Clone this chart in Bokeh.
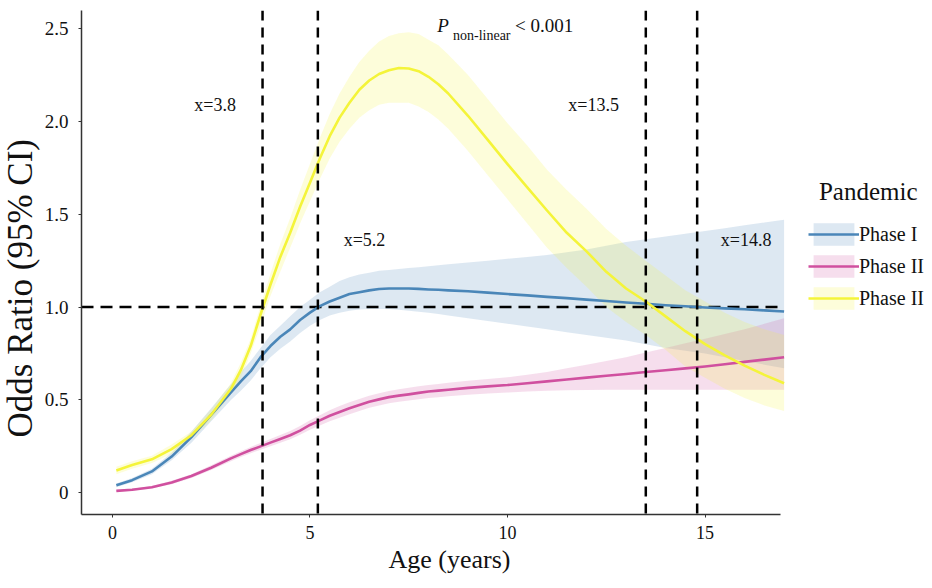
import math
from bokeh.plotting import figure
from bokeh.models import (Span, Label, Legend, LegendItem, Range1d, FixedTicker,
                          CustomJSTickFormatter, ColumnDataSource, Title)
from bokeh.embed import file_html
from bokeh.resources import INLINE

# ---------------- data ----------------
age = [0.1, 0.5, 1.0, 1.5, 2.0, 2.5, 3.0,
       3.25, 3.5, 3.75, 4.0, 4.25, 4.5, 4.75, 5.0, 5.25, 5.5, 5.75, 6.0, 6.25, 6.5,
       6.75, 7.0, 7.25, 7.5, 7.75, 8.0, 8.25, 8.5,
       9.0, 9.5, 10.0, 10.5, 11.0, 11.5, 12.0, 12.5, 13.0, 13.5, 14.0, 14.5, 15.0,
       15.5, 16.0, 16.5, 17.0]

phase1_or = [0.04, 0.068, 0.115, 0.195, 0.30, 0.42, 0.54,
             0.60, 0.655, 0.73, 0.79, 0.84, 0.88, 0.93, 0.97, 1.005, 1.03, 1.05, 1.07,
             1.08, 1.09, 1.097, 1.10, 1.10, 1.10, 1.098, 1.095, 1.093, 1.09,
             1.085, 1.078, 1.07, 1.063, 1.055, 1.048, 1.04, 1.033, 1.025, 1.018, 1.01,
             1.004, 0.998, 0.993, 0.988, 0.982, 0.976]
phase1_hi = [0.05, 0.08, 0.13, 0.215, 0.33, 0.455, 0.585,
             0.65, 0.71, 0.78, 0.85, 0.90, 0.95, 1.00, 1.04, 1.08, 1.11, 1.14, 1.16,
             1.175, 1.185, 1.195, 1.20, 1.205, 1.21, 1.215, 1.22, 1.225, 1.23,
             1.24, 1.25, 1.26, 1.27, 1.28, 1.295, 1.31, 1.33, 1.35, 1.365, 1.38,
             1.395, 1.41, 1.425, 1.44, 1.455, 1.47]
phase1_lo = [0.03, 0.057, 0.10, 0.175, 0.27, 0.385, 0.50,
             0.55, 0.605, 0.67, 0.73, 0.775, 0.815, 0.86, 0.90, 0.93, 0.955, 0.97, 0.98,
             0.987, 0.99, 0.99, 0.99, 0.985, 0.98, 0.975, 0.97, 0.963, 0.955,
             0.94, 0.925, 0.91, 0.895, 0.88, 0.865, 0.85, 0.835, 0.82, 0.80, 0.78,
             0.765, 0.75, 0.73, 0.71, 0.69, 0.67]

phase2_or = [0.01, 0.016, 0.03, 0.055, 0.09, 0.135, 0.185,
             0.208, 0.23, 0.25, 0.27, 0.29, 0.31, 0.335, 0.365, 0.39, 0.415, 0.435,
             0.455, 0.473, 0.49, 0.503, 0.515, 0.523, 0.53, 0.538, 0.545, 0.55, 0.555,
             0.565, 0.573, 0.58, 0.59, 0.60, 0.61, 0.62, 0.63, 0.64, 0.65, 0.66,
             0.67, 0.68, 0.692, 0.705, 0.717, 0.73]
phase2_hi = [0.015, 0.022, 0.037, 0.065, 0.10, 0.148, 0.20,
             0.224, 0.247, 0.268, 0.29, 0.311, 0.333, 0.36, 0.39, 0.417, 0.445, 0.467,
             0.488, 0.505, 0.522, 0.536, 0.548, 0.557, 0.565, 0.573, 0.58, 0.586, 0.592,
             0.603, 0.612, 0.622, 0.635, 0.65, 0.67, 0.69, 0.71, 0.73, 0.755, 0.78,
             0.805, 0.83, 0.855, 0.88, 0.91, 0.94]
phase2_lo = [0.005, 0.011, 0.024, 0.046, 0.08, 0.122, 0.17,
             0.192, 0.213, 0.232, 0.25, 0.269, 0.288, 0.313, 0.34, 0.362, 0.385, 0.404,
             0.423, 0.44, 0.458, 0.47, 0.482, 0.49, 0.497, 0.504, 0.51, 0.515, 0.52,
             0.528, 0.534, 0.54, 0.545, 0.55, 0.552, 0.554, 0.555, 0.555, 0.555, 0.555,
             0.555, 0.555, 0.555, 0.555, 0.555, 0.555]

phase3_or = [0.12, 0.15, 0.18, 0.235, 0.31, 0.42, 0.56,
             0.66, 0.79, 0.96, 1.12, 1.27, 1.40, 1.54, 1.67, 1.80, 1.92, 2.02, 2.10,
             2.17, 2.22, 2.255, 2.275, 2.287, 2.285, 2.27, 2.24, 2.20, 2.15,
             2.03, 1.90, 1.77, 1.645, 1.52, 1.40, 1.30, 1.19, 1.10, 1.03, 0.95,
             0.87, 0.80, 0.74, 0.685, 0.635, 0.59]
phase3_hi = [0.14, 0.17, 0.20, 0.26, 0.33, 0.45, 0.59,
             0.70, 0.83, 1.01, 1.18, 1.34, 1.48, 1.63, 1.77, 1.91, 2.04, 2.15, 2.24,
             2.32, 2.38, 2.43, 2.46, 2.475, 2.48, 2.47, 2.44, 2.41, 2.36,
             2.25, 2.12, 1.99, 1.87, 1.74, 1.63, 1.53, 1.42, 1.33, 1.25, 1.17,
             1.09, 1.03, 0.97, 0.92, 0.88, 0.85]
phase3_lo = [0.10, 0.13, 0.16, 0.21, 0.29, 0.39, 0.53,
             0.62, 0.75, 0.90, 1.06, 1.19, 1.32, 1.45, 1.57, 1.69, 1.80, 1.89, 1.96,
             2.02, 2.06, 2.09, 2.10, 2.10, 2.10, 2.08, 2.05, 2.01, 1.96,
             1.84, 1.71, 1.58, 1.45, 1.32, 1.21, 1.11, 1.00, 0.92, 0.85, 0.77,
             0.68, 0.62, 0.56, 0.51, 0.47, 0.44]

series_names = ["Phase I", "Phase II", "Phase II"]
series_colors = ["#4a86b8", "#d0509f", "#f4f43a"]
cutpoints = [3.8, 5.2, 13.5, 14.8]
cut_labels = ["x=3.8", "x=5.2", "x=13.5", "x=14.8"]
cut_label_x = [2.60, 6.38, 12.18, 16.04]
cut_label_y = [2.086, 1.359, 2.086, 1.359]
reference_or = 1.0
x_ticks = [0, 5, 10, 15]
y_ticks = [0, 0.5, 1.0, 1.5, 2.0, 2.5]
axis_x_min, axis_x_max = -0.782, 16.92      # drawn extent of the x axis
view_x_max = 20.655                          # room on the right for the legend
y_min, y_max = -0.117, 2.597

FONT = "Liberation Serif"

# ---------------- figure ----------------
p = figure(width=928, height=580, output_backend="svg", toolbar_location=None,
           x_range=Range1d(axis_x_min, view_x_max), y_range=Range1d(y_min, y_max),
           min_border_left=78, min_border_right=0, min_border_top=10,
           min_border_bottom=66)
p.outline_line_color = None
p.xgrid.visible = False
p.ygrid.visible = False
p.background_fill_color = "white"

for ax in (p.xaxis[0], p.yaxis[0]):
    ax.axis_line_color = "#333333"
    ax.axis_line_width = 1.5
    ax.major_tick_line_color = "#333333"
    ax.major_tick_out = 3
    ax.major_tick_in = 0
    ax.minor_tick_line_color = None
    ax.major_label_text_font = FONT
    ax.major_label_text_color = "#111111"

p.xaxis.bounds = (axis_x_min, axis_x_max)
p.xaxis.ticker = FixedTicker(ticks=x_ticks)
p.yaxis.ticker = FixedTicker(ticks=y_ticks)
p.xaxis.major_label_text_font_size = "18px"
p.yaxis.major_label_text_font_size = "19px"
p.xaxis.major_label_standoff = 8
p.yaxis.major_label_standoff = 10
p.yaxis.formatter = CustomJSTickFormatter(code="return tick == 0 ? '0' : tick.toFixed(1);")
p.xaxis.formatter = CustomJSTickFormatter(code="return tick.toFixed(0);")

src = ColumnDataSource(dict(age=age,
                            p1=phase1_or, p1h=phase1_hi, p1l=phase1_lo,
                            p2=phase2_or, p2h=phase2_hi, p2l=phase2_lo,
                            p3=phase3_or, p3h=phase3_hi, p3l=phase3_lo))

bands = []
for key, col in zip(["p1", "p2", "p3"], series_colors):
    bands.append(p.varea(x="age", y1=key + "l", y2=key + "h", source=src,
                         fill_color=col, fill_alpha=0.19))

# reference lines
for c in cutpoints:
    p.add_layout(Span(location=c, dimension="height", line_color="black",
                      line_width=2.5, line_dash="10 7"))
p.segment(x0=[axis_x_min], y0=[reference_or], x1=[axis_x_max], y1=[reference_or],
          line_color="black", line_width=2.5, line_dash="12 7")

lines = []
for key, col in zip(["p1", "p2", "p3"], series_colors):
    lines.append(p.line(x="age", y=key, source=src, line_color=col,
                        line_width=2.6, line_join="round"))

# annotations
for t, lx, ly in zip(cut_labels, cut_label_x, cut_label_y):
    p.add_layout(Label(x=lx, y=ly, text=t, text_font=FONT, text_font_size="18px",
                       text_align="center", text_baseline="middle", text_color="#111111"))

p.add_layout(Label(x=8.22, y=2.516, text="P", text_font=FONT, text_font_size="19px",
                   text_font_style="italic", text_baseline="middle", text_color="#111111"))
p.add_layout(Label(x=8.62, y=2.463, text="non-linear", text_font=FONT, text_font_size="14px",
                   text_baseline="middle", text_color="#111111"))
p.add_layout(Label(x=10.19, y=2.516, text="< 0.001", text_font=FONT, text_font_size="19px",
                   text_baseline="middle", text_color="#111111"))

# axis titles (side titles so that they can be placed)
p.add_layout(Title(text="Odds Ratio (95% CI)", align="left", offset=77, standoff=0,
                   vertical_align="top",
                   text_font=FONT, text_font_size="35px", text_font_style="normal",
                   text_color="#111111"), "left")
p.add_layout(Title(text="Age (years)", align="left", offset=307, standoff=2,
                   text_font=FONT, text_font_size="26px", text_font_style="normal",
                   text_color="#111111"), "below")

# legend (inside the wide frame, to the right of the drawn axis)
p.add_layout(Label(x=19.13, y=1.622, text="Pandemic", text_font=FONT,
                   text_font_size="25px", text_align="center", text_baseline="middle",
                   text_color="#111111"))
items = [LegendItem(label=n, renderers=[b, l]) for n, b, l in zip(series_names, bands, lines)]
legend = Legend(items=items, location=(727, 202), padding=0, margin=0, spacing=4,
                glyph_width=51, glyph_height=28, label_height=28, label_standoff=0,
                border_line_color=None, background_fill_alpha=0,
                label_text_font=FONT, label_text_font_size="20px",
                label_text_color="#111111")
p.add_layout(legend)

open("out.html", "w").write(file_html(p, INLINE))
